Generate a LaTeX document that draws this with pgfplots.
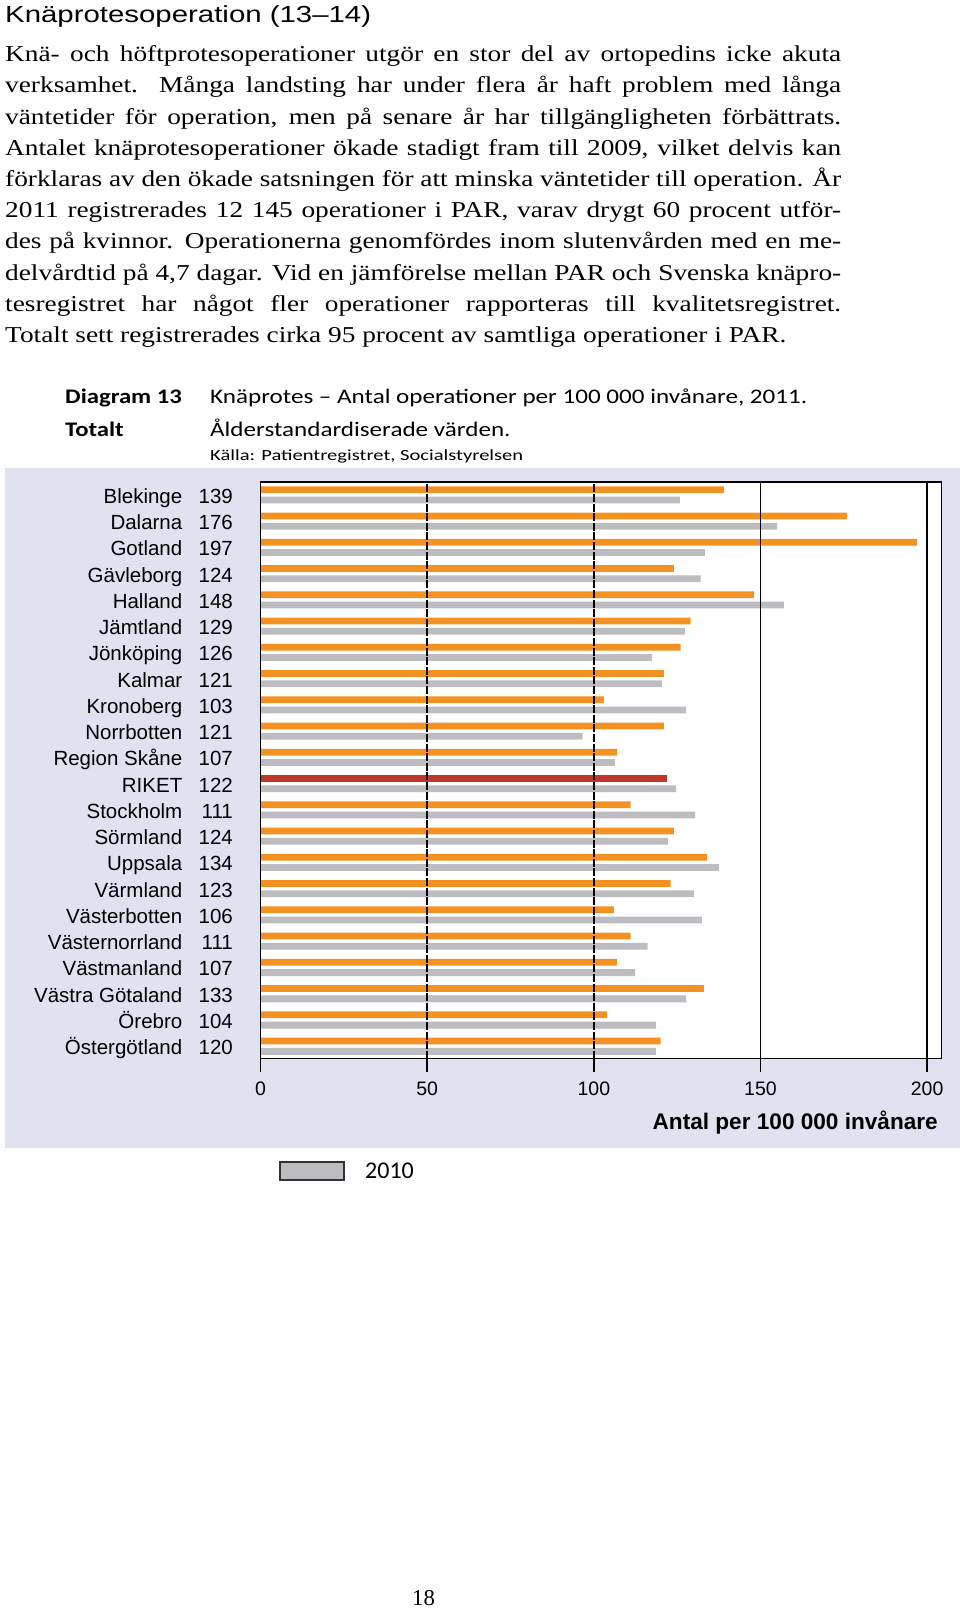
\documentclass[border=0pt]{standalone}
\usepackage{fontspec}
\setmainfont{Liberation Serif}
\newfontfamily\arial{Liberation Sans}
\newfontfamily\calibri{Carlito}
\usepackage{graphicx}
\usepackage{pgfplots}
\pgfplotsset{compat=1.18}
\definecolor{bgc}{RGB}{224,227,239}
\definecolor{orng}{RGB}{243,146,35}
\definecolor{gry}{RGB}{189,189,193}
\definecolor{redb}{RGB}{190,55,40}
\newlength\tmpw
\newcommand\fitx[3]{\settowidth\tmpw{#3}\pgfmathsetmacro#1{#2*1.00375/\tmpw}}
\newcommand\yl[2]{#1\makebox[50.6bp][r]{#2}}
\newcommand\bodyf{\fontsize{22.7bp}{31.2bp}\selectfont}
\newcommand\titf{\arial\fontsize{23.3bp}{28bp}\selectfont}
\newcommand\headbf{\calibri\bfseries\fontsize{20.7bp}{25bp}\selectfont}
\newcommand\headf{\calibri\fontsize{20.7bp}{25bp}\selectfont}
\newcommand\srcf{\calibri\fontsize{15.5bp}{19bp}\selectfont}
\begin{document}%
\fitx\sT{366}{\titf Knäprotesoperation (13–14)}%
\fitx\sB{781}{\bodyf Totalt sett registrerades cirka 95 procent av samtliga operationer i PAR.}%
\pgfmathsetmacro\Lw{836/\sB}%
\fitx\sD{116.7}{\headbf Diagram 13}%
\fitx\sH{597}{\headf Knäprotes – Antal operationer per 100 000 invånare, 2011.}%
\fitx\sS{313}{\srcf Källa: Patientregistret, Socialstyrelsen}%
\begin{tikzpicture}
\path[use as bounding box] (0,0) rectangle (960bp,-1609bp);
% title
\node[anchor=base west, inner sep=0pt] at (5bp,-22.7bp) {\scalebox{\sT}[1]{\titf Knäprotesoperation (13–14)}};
% body
\foreach \k/\txt in {0/{Knä- och höftprotesoperationer utgör en stor del av ortopedins icke akuta},
 1/{verksamhet. Många landsting har under flera år haft problem med långa},
 2/{väntetider för operation, men på senare år har tillgängligheten förbättrats.},
 3/{Antalet knäprotesoperationer ökade stadigt fram till 2009, vilket delvis kan},
 4/{förklaras av den ökade satsningen för att minska väntetider till operation. År},
 5/{2011 registrerades 12 145 operationer i PAR, varav drygt 60 procent utför-},
 6/{des på kvinnor. Operationerna genomfördes inom slutenvården med en me-},
 7/{delvårdtid på 4,7 dagar. Vid en jämförelse mellan PAR och Svenska knäpro-},
 8/{tesregistret har något fler operationer rapporteras till kvalitetsregistret.}}{
 \node[anchor=base west, inner sep=0pt] at (5bp,{-61.7bp-31.2bp*\k}) {\scalebox{\sB}[1]{\bodyf\makebox[\Lw bp][s]{\txt}}};
}
\node[anchor=base west, inner sep=0pt] at (5bp,{-61.7bp-31.2bp*9}) {\scalebox{\sB}[1]{\bodyf Totalt sett registrerades cirka 95 procent av samtliga operationer i PAR.}};
% heading
\node[anchor=base west, inner sep=0pt] at (65bp,-403.3bp) {\scalebox{\sD}[1]{\headbf Diagram 13}};
\node[anchor=base west, inner sep=0pt] at (65bp,-436bp) {\scalebox{\sD}[1]{\headbf Totalt}};
\node[anchor=base west, inner sep=0pt] at (210bp,-403.3bp) {\scalebox{\sH}[1]{\headf Knäprotes – Antal operationer per 100 000 invånare, 2011.}};
\node[anchor=base west, inner sep=0pt] at (210bp,-436bp) {\scalebox{\sH}[1]{\headf Ålderstandardiserade värden.}};
\node[anchor=base west, inner sep=0pt] at (210bp,-460bp) {\scalebox{\sS}[1]{\srcf Källa: Patientregistret, Socialstyrelsen}};
% chart background
\fill[bgc] (5bp,-468bp) rectangle (960bp,-1148bp);
\begin{axis}[
  at={(260.5bp,-482bp)}, anchor=north west,
  scale only axis, width=681bp, height=576.7bp,
  xmin=0, xmax=204.3, ymin=-0.476, ymax=21.49,
  axis background/.style={fill=white},
  axis line style={black, line width=1.5bp},
  axis on top,
  xtick={0,50,100}, extra x ticks={150,200},
  xmajorgrids, grid style={black, line width=1.5bp, dash pattern=on 8bp off 1.6bp},
  extra x tick style={grid style={black, line width=1.7bp, solid}},
  tick align=outside, major tick length=13bp, xtick pos=left,
  tick style={black, line width=1.5bp},
  ytick={0,...,21}, ytick style={draw=none},
  yticklabels={{\yl{Östergötland}{120}},{\yl{Örebro}{104}},{\yl{Västra Götaland}{133}},{\yl{Västmanland}{107}},{\yl{Västernorrland}{111}},{\yl{Västerbotten}{106}},{\yl{Värmland}{123}},{\yl{Uppsala}{134}},{\yl{Sörmland}{124}},{\yl{Stockholm}{111}},{\yl{RIKET}{122}},{\yl{Region Skåne}{107}},{\yl{Norrbotten}{121}},{\yl{Kronoberg}{103}},{\yl{Kalmar}{121}},{\yl{Jönköping}{126}},{\yl{Jämtland}{129}},{\yl{Halland}{148}},{\yl{Gävleborg}{124}},{\yl{Gotland}{197}},{\yl{Dalarna}{176}},{\yl{Blekinge}{139}}},
  /pgf/number format/assume math mode=true,
  xticklabel style={font=\arial\fontsize{19.5bp}{22bp}\selectfont, anchor=base, inner sep=0pt, yshift=-24bp},
  yticklabel style={font=\arial\fontsize{20.5bp}{24bp}\selectfont, anchor=base east, inner sep=0pt, xshift=-14.4bp, yshift=-8.4bp},
  xlabel={Antal per 100 000 invånare},
  xlabel style={font=\arial\bfseries\fontsize{22.6bp}{26bp}\selectfont, at={(axis description cs:0.9949,-0.1236)}, anchor=base east, inner sep=0pt},
  legend style={at={(axis description cs:0.0272,-0.1774)}, anchor=north west, draw=none, fill=none, inner sep=0pt, font=\calibri\fontsize{24bp}{28bp}\selectfont, nodes={inner sep=0pt}, cells={anchor=base west}, /tikz/every odd column/.append style={column sep=20.7bp}},
  legend image code/.code={\draw[fill=gry, draw=black!80, line width=1.3bp] (0bp,-1.3bp) rectangle (64bp,16.7bp);},
]
\addplot[xbar, bar width=6.8bp, bar shift=-5.15bp, fill=gry, draw=none] coordinates {
(118.6,0) (118.6,1) (127.7,2) (112.4,3) (116.1,4) (132.4,5) (130.0,6) (137.5,7) (122.2,8) (130.4,9) (124.7,10) (106.3,11) (96.6,12) (127.7,13) (120.5,14) (117.5,15) (127.3,16) (157.0,17) (132.0,18) (133.3,19) (155.0,20) (125.8,21)};
\addlegendentry{2010}
\addplot[xbar, bar width=6.8bp, bar shift=5.15bp, fill=orng, draw=none, forget plot] coordinates {
(120,0) (104,1) (133,2) (107,3) (111,4) (106,5) (123,6) (134,7) (124,8) (111,9) (107,11) (121,12) (103,13) (121,14) (126,15) (129,16) (148,17) (124,18) (197,19) (176,20) (139,21)};
\addplot[xbar, bar width=6.8bp, bar shift=5.15bp, fill=redb, draw=none, forget plot] coordinates {(122,10)};
\end{axis}
\node[anchor=base, inner sep=0pt] at (423.5bp,-1605bp) {\bodyf 18};
\end{tikzpicture}
\end{document}
